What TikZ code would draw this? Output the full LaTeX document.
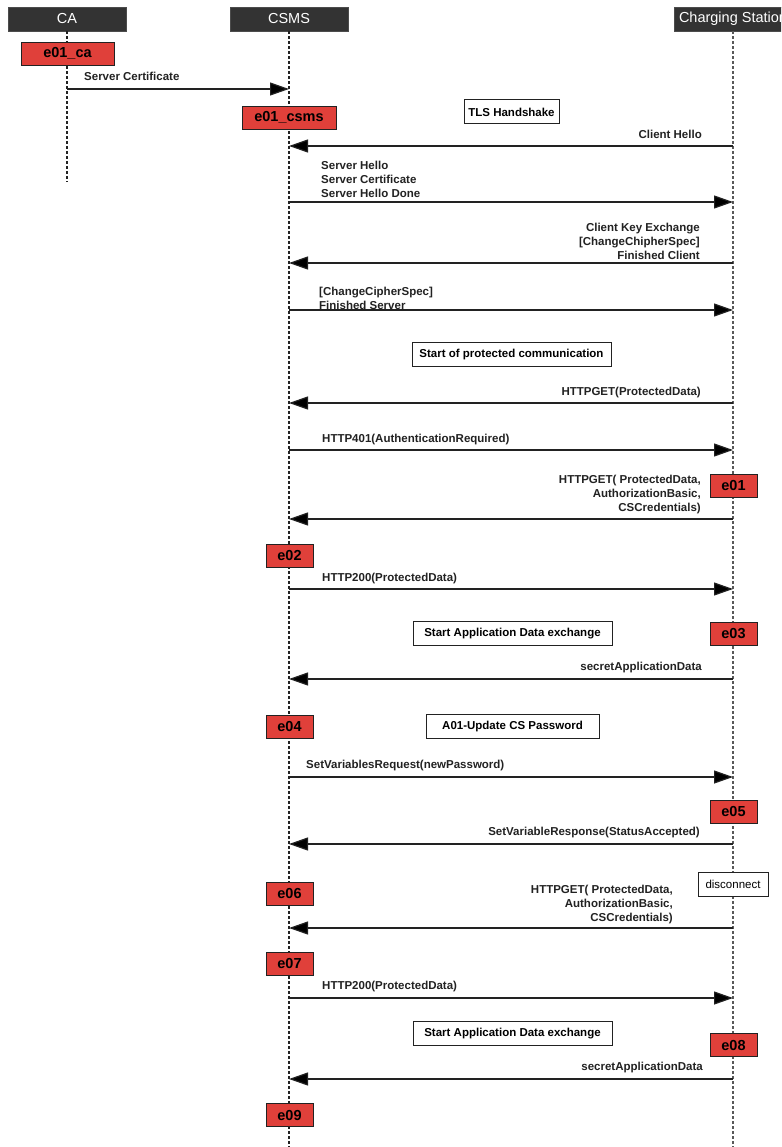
\documentclass[tikz,border=0pt]{standalone}
\usepackage{fontspec}
\setmainfont{Liberation Sans}
\usetikzlibrary{arrows.meta}
\definecolor{hdr}{HTML}{333333}
\definecolor{evred}{HTML}{E0403A}
\definecolor{ink}{HTML}{222222}
\begin{document}
\begin{tikzpicture}[x=1pt,y=-1pt,
  hdrbox/.style={fill=hdr, draw=gray!60!black, text=white, font=\fontsize{14.5}{17}\selectfont,
    minimum height=24pt, minimum width=118pt, inner sep=0},
  evbox/.style={fill=evred, draw=ink, line width=0.9pt, font=\bfseries\fontsize{14.5}{17}\selectfont,
    minimum height=23pt, minimum width=47pt, inner sep=0},
  notebox/.style={fill=white, draw=ink, line width=1pt, font=\bfseries\fontsize{11.5}{14}\selectfont,
    minimum height=24pt, inner sep=0},
  msgtext/.style={font=\bfseries\fontsize{11.5}{14}\selectfont, inner sep=0, text=ink},
  lifeline/.style={dash pattern=on 3pt off 2pt, line width=1.1pt, draw=ink},
  msg/.style={draw=ink, line width=1.2pt, -{Triangle[length=19pt,width=13pt,fill=black]}}]

\useasboundingbox (0,0) rectangle (781,1147);
\clip (0,0) rectangle (781,1147);
\fill[white] (0,0) rectangle (781,1147);

% participants
\node[hdrbox] (hCA)   at (67,19)    {CA};
\node[hdrbox] (hCSMS) at (289,19)   {CSMS};
\node[hdrbox] (hCS)   at (733,19)   {Charging Station};

% lifelines
\coordinate (caEnd)   at (67,182);
\coordinate (csmsEnd) at (289,1147);
\coordinate (csEnd)   at (733,1147);
\draw[lifeline] (hCA.south) -- (caEnd);
\draw[lifeline] (hCSMS.south) -- (csmsEnd);
\draw[lifeline, draw=ink!75] (hCS.south) -- (csEnd);

% event markers
\node[evbox, minimum width=93pt] (e01ca)   at (67.5,53.5)  {e01\_ca};
\node[evbox, minimum width=94pt] (e01csms) at (289,117.5)  {e01\_csms};
\node[evbox] (e01) at (733.5,485.5) {e01};
\node[evbox] (e02) at (289.5,555.5) {e02};
\node[evbox] (e03) at (733.5,633.5) {e03};
\node[evbox] (e04) at (289.5,726.5) {e04};
\node[evbox] (e05) at (733.5,811.5) {e05};
\node[evbox] (e06) at (289.5,893.5) {e06};
\node[evbox] (e07) at (289.5,963.5) {e07};
\node[evbox] (e08) at (733.5,1045)  {e08};
\node[evbox] (e09) at (289.5,1115)  {e09};

% phase notes
\node[notebox, minimum width=95pt]  (nTLS)  at (511.5,112)  {TLS Handshake};
\node[notebox, minimum width=199pt] (nProt) at (511.5,354.5) {Start of protected communication};
\node[notebox, minimum width=199pt] (nApp1) at (512.5,633.5) {Start Application Data exchange};
\node[notebox, minimum width=173pt] (nPwd)  at (512.5,726.5) {A01-Update CS Password};
\node[notebox, minimum width=70pt, font=\fontsize{11.5}{14}\selectfont] (nDisc) at (733,884) {disconnect};
\node[notebox, minimum width=199pt] (nApp2) at (512.5,1033.5) {Start Application Data exchange};

% messages
\coordinate (m1a) at (67,89);    \coordinate (m1b) at (289,89);
\draw[msg] (m1a) -- (m1b);
\node[msgtext, anchor=west] (l1) at (84,76) {Server Certificate};

\coordinate (m2a) at (733,146);  \coordinate (m2b) at (289,146);
\draw[msg] (m2a) -- (m2b);
\node[msgtext, anchor=east] (l2) at (702,134) {Client Hello};

\coordinate (m3a) at (289,202);  \coordinate (m3b) at (733,202);
\draw[msg] (m3a) -- (m3b);
\node[msgtext, anchor=west, align=left] (l3) at (321,179) {Server Hello\\Server Certificate\\Server Hello Done};

\coordinate (m4a) at (733,263);  \coordinate (m4b) at (289,263);
\draw[msg] (m4a) -- (m4b);
\node[msgtext, anchor=east, align=right] (l4) at (700,241) {Client Key Exchange\\{[ChangeChipherSpec]}\\Finished Client};

\coordinate (m5a) at (289,310);  \coordinate (m5b) at (733,310);
\draw[msg] (m5a) -- (m5b);
\node[msgtext, anchor=west, align=left] (l5) at (319,298) {{[ChangeCipherSpec]}\\Finished Server};

\coordinate (m6a) at (733,403);  \coordinate (m6b) at (289,403);
\draw[msg] (m6a) -- (m6b);
\node[msgtext, anchor=east] (l6) at (701,393) {HTTPGET(ProtectedData)};

\coordinate (m7a) at (289,450);  \coordinate (m7b) at (733,450);
\draw[msg] (m7a) -- (m7b);
\node[msgtext, anchor=west] (l7) at (322,440) {HTTP401(AuthenticationRequired)};

\coordinate (m8a) at (733,519);  \coordinate (m8b) at (289,519);
\draw[msg] (m8a) -- (m8b);
\node[msgtext, anchor=east, align=right] (l8) at (701,495) {HTTPGET( ProtectedData,\\AuthorizationBasic,\\CSCredentials)};

\coordinate (m9a) at (289,589);  \coordinate (m9b) at (733,589);
\draw[msg] (m9a) -- (m9b);
\node[msgtext, anchor=west] (l9) at (322,579) {HTTP200(ProtectedData)};

\coordinate (m10a) at (733,679); \coordinate (m10b) at (289,679);
\draw[msg] (m10a) -- (m10b);
\node[msgtext, anchor=east] (l10) at (702,668) {secretApplicationData};

\coordinate (m11a) at (289,777); \coordinate (m11b) at (733,777);
\draw[msg] (m11a) -- (m11b);
\node[msgtext, anchor=west] (l11) at (306,766) {SetVariablesRequest(newPassword)};

\coordinate (m12a) at (733,844); \coordinate (m12b) at (289,844);
\draw[msg] (m12a) -- (m12b);
\node[msgtext, anchor=east] (l12) at (700,833) {SetVariableResponse(StatusAccepted)};

\coordinate (m13a) at (733,928); \coordinate (m13b) at (289,928);
\draw[msg] (m13a) -- (m13b);
\node[msgtext, anchor=east, align=right] (l13) at (673,905) {HTTPGET( ProtectedData,\\AuthorizationBasic,\\CSCredentials)};

\coordinate (m14a) at (289,998); \coordinate (m14b) at (733,998);
\draw[msg] (m14a) -- (m14b);
\node[msgtext, anchor=west] (l14) at (322,987) {HTTP200(ProtectedData)};

\coordinate (m15a) at (733,1079); \coordinate (m15b) at (289,1079);
\draw[msg] (m15a) -- (m15b);
\node[msgtext, anchor=east] (l15) at (703,1068) {secretApplicationData};

\end{tikzpicture}
\end{document}
